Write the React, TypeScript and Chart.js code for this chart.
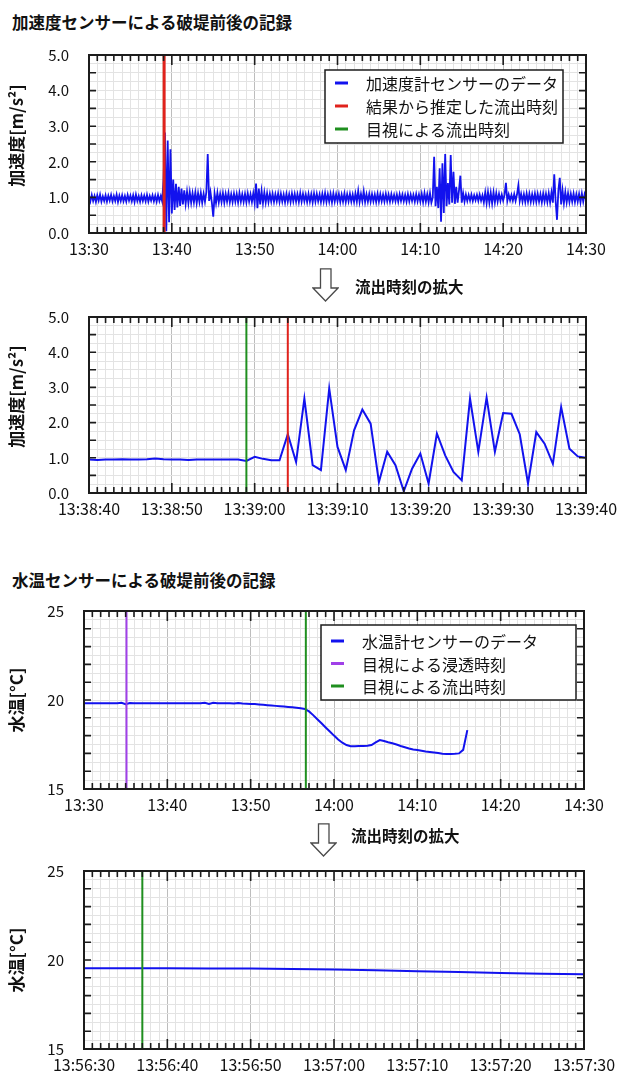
import React, { useEffect, useRef } from "react";
import { Chart, registerables } from "chart.js";

Chart.register(...registerables);

const FONT = '"Noto Sans CJK JP", "Noto Sans", sans-serif';
const BLUE = "#1212ee";
const RED = "#e0221c";
const GREEN = "#1f8f1f";
const PURPLE = "#a040e8";

// ---------------- Panel 1: accelerometer 13:30–14:30 (one value every 10 s) ----------------
const accTickLabels = ["13:30", "13:40", "13:50", "14:00", "14:10", "14:20", "14:30"];
const accStepMinutes = 1 / 6;
const accValues = [
  1.05, 0.89, 1.07, 0.9, 1.04, 0.87, 1.06, 0.91, 1.08, 0.88, 1.03, 0.9,
  1.06, 0.88, 1.05, 0.91, 1.07, 0.89, 1.04, 0.9, 1.08, 0.87, 1.05, 0.9,
  1.06, 0.89, 1.04, 0.88, 1.07, 0.91, 1.05, 0.89, 1.06, 0.87, 1.08, 0.9,
  1.04, 0.88, 1.06, 0.9, 1.05, 0.89, 1.07, 0.88, 1.04, 0.91, 1.06, 0.89,
  1.05, 0.88, 1.07, 0.9, 1.04, 0.89, 1.5, 2.82, 0.05, 2.6, 0.3, 2.35,
  0.55, 1.5, 0.65, 1.38, 0.72, 1.3, 0.76, 1.25, 0.8, 1.2, 0.82, 1.16,
  0.84, 1.15, 0.85, 1.12, 0.86, 1.14, 0.84, 1.12, 0.87, 1.13, 0.85, 1.1,
  0.88, 1.15, 2.22, 0.9, 1.15, 0.85, 0.46, 1.1, 0.84, 1.13, 0.86, 1.1,
  0.87, 1.12, 0.85, 1.1, 0.88, 1.12, 0.86, 1.09, 0.87, 1.11, 0.88, 1.1,
  0.86, 1.12, 0.88, 1.09, 0.87, 1.1, 0.86, 1.11, 0.88, 1.09, 0.87, 1.12,
  0.84, 1.39, 0.7, 1.25, 0.8, 1.18, 0.84, 1.14, 0.86, 1.12, 0.87, 1.1,
  0.88, 1.1, 0.87, 1.09, 0.89, 1.11, 0.87, 1.1, 0.88, 1.08, 0.86, 1.1,
  0.88, 1.09, 0.87, 1.11, 0.89, 1.1, 0.88, 1.09, 0.87, 1.12, 0.88, 1.1,
  0.89, 1.08, 0.87, 1.1, 0.88, 1.09, 0.86, 1.11, 0.88, 1.1, 0.89, 1.08,
  0.87, 1.1, 0.88, 1.12, 0.87, 1.09, 0.88, 1.1, 0.86, 1.11, 0.88, 1.09,
  0.89, 1.1, 0.87, 1.08, 0.88, 1.11, 0.87, 1.09, 0.89, 1.1, 0.88, 1.08,
  0.87, 1.11, 0.88, 1.18, 0.87, 1.1, 0.89, 1.17, 0.87, 1.09, 0.88, 1.1,
  0.88, 1.09, 0.89, 1.08, 0.87, 1.1, 0.88, 1.09, 0.89, 1.08, 0.88, 1.1,
  0.89, 1.08, 0.88, 1.09, 0.9, 1.07, 0.89, 1.08, 0.88, 1.09, 0.9, 1.08,
  0.89, 1.07, 0.88, 1.09, 0.89, 1.08, 0.9, 1.07, 0.88, 1.09, 0.89, 1.08,
  0.88, 1.1, 0.87, 1.12, 0.88, 1.09, 0.86, 1.12, 0.85, 1.0, 2.14, 0.75,
  1.3, 0.7, 1.82, 0.32, 1.96, 0.56, 2.22, 0.75, 1.4, 0.8, 2.19, 0.85,
  1.72, 0.82, 1.3, 0.85, 1.2, 1.61, 0.85, 1.12, 0.88, 1.08, 0.9, 1.07,
  0.91, 1.08, 0.9, 1.06, 0.92, 1.07, 0.9, 1.08, 0.91, 1.06, 0.86, 1.14,
  0.84, 1.15, 0.85, 1.13, 0.83, 1.14, 0.86, 1.12, 0.88, 1.1, 0.9, 1.08,
  0.91, 1.07, 1.41, 0.9, 1.08, 0.92, 1.07, 0.91, 1.09, 0.9, 1.08, 1.34,
  0.9, 1.1, 0.88, 1.09, 0.87, 1.11, 0.88, 1.1, 0.87, 1.09, 0.88, 1.11,
  0.87, 1.1, 0.88, 1.09, 0.86, 1.11, 0.88, 1.1, 0.87, 1.12, 0.86, 1.14,
  0.85, 1.65, 0.9, 0.37, 1.2, 1.55, 0.8, 1.2, 0.84, 1.15, 0.86, 1.12,
  0.87, 1.1, 0.88, 1.11, 0.87, 1.09, 0.88, 1.1, 0.86, 1.11, 0.88, 1.09,
  0.95,
];
const accSeriesLabel = "加速度計センサーのデータ";
const accEstimatedLabel = "結果から推定した流出時刻";
const accEstimatedMinute = 9.07; // 13:39:04
const visualOutflowLabel = "目視による流出時刻";
const accVisualMinute = 8.98; // 13:38:59

// ---------------- Panel 2: accelerometer 13:38:40–13:39:40 (one value per second) ----------------
const zoomAccTickLabels = ["13:38:40", "13:38:50", "13:39:00", "13:39:10", "13:39:20", "13:39:30", "13:39:40"];
const zoomAccStepSeconds = 1;
const zoomAccValues = [
  0.95, 0.94, 0.95, 0.95, 0.96, 0.95, 0.95, 0.96, 0.98, 0.96, 0.95, 0.95,
  0.94, 0.95, 0.95, 0.95, 0.95, 0.95, 0.95, 0.91, 1.03, 0.97, 0.93, 0.93,
  1.67, 0.88, 2.68, 0.79, 0.65, 2.97, 1.31, 0.65, 1.78, 2.37, 1.97, 0.31,
  1.17, 0.79, 0.05, 0.69, 1.12, 0.27, 1.69, 1.07, 0.6, 0.36, 2.68, 1.17,
  2.71, 1.17, 2.27, 2.25, 1.67, 0.27, 1.73, 1.4, 0.83, 2.44, 1.26, 1.04,
  1.0,
];
const zoomAccEstimatedSecond = 24; // 13:39:04
const zoomAccVisualSecond = 19; // 13:38:59

// ---------------- Panel 3: water temperature 13:30–14:30 (one value every 30 s) ----------------
const tempTickLabels = ["13:30", "13:40", "13:50", "14:00", "14:10", "14:20", "14:30"];
const tempStepMinutes = 0.5;
const tempValues = [
  19.82, 19.82, 19.82, 19.82, 19.82, 19.82, 19.82, 19.82, 19.82, 19.84,
  19.76, 19.83, 19.82, 19.82, 19.82, 19.82, 19.82, 19.82, 19.82, 19.82,
  19.82, 19.82, 19.82, 19.82, 19.82, 19.82, 19.82, 19.82, 19.82, 19.84,
  19.78, 19.84, 19.82, 19.82, 19.82, 19.82, 19.81, 19.83, 19.8, 19.79,
  19.78, 19.77, 19.75, 19.73, 19.71, 19.69, 19.67, 19.65, 19.63, 19.61,
  19.59, 19.56, 19.53, 19.5, 19.36, 19.15, 18.92, 18.69, 18.46, 18.23,
  18.0, 17.78, 17.6, 17.47, 17.4, 17.4, 17.41, 17.42, 17.43, 17.47,
  17.62, 17.75, 17.7, 17.63, 17.57, 17.5, 17.42, 17.35, 17.28, 17.22,
  17.19, 17.15, 17.11, 17.08, 17.05, 17.02, 16.98, 16.97, 16.97, 16.98,
  17.0, 17.2, 18.31,
];
const tempSeriesLabel = "水温計センサーのデータ";
const seepageLabel = "目視による浸透時刻";
const tempSeepageMinute = 5.1; // 13:35:06
const tempVisualMinute = 26.62; // 13:56:37

// ---------------- Panel 4: water temperature 13:56:30–13:57:30 (one value every 5 s) ----------------
const zoomTempTickLabels = ["13:56:30", "13:56:40", "13:56:50", "13:57:00", "13:57:10", "13:57:20", "13:57:30"];
const zoomTempStepSeconds = 5;
const zoomTempValues = [19.53, 19.53, 19.53, 19.52, 19.52, 19.5, 19.46, 19.42, 19.37, 19.32, 19.27, 19.23, 19.2];
const zoomTempVisualSecond = 7; // 13:56:37

type EventLine = { label: string; color: string; at: number; width: number };
type LegendSpec = { dx: number; dy: number; w: number; h: number; rows: number[] };
type PanelSpec = {
  values: number[];
  step: number;
  xMax: number;
  xLabels: string[];
  yMin: number;
  yMax: number;
  yGrid: number;
  yTick: number;
  yLabel: (v: number) => string;
  yTitle: string;
  seriesLabel: string;
  lineWidth: number;
  events: EventLine[];
  legend: LegendSpec | null;
  yAxisWidth: number;
  padRight: number;
  padTop: number;
  xAxisHeight: number;
};

const decorPlugin = {
  id: "panelDecor",
  afterDatasetsDraw(chart: any, _args: any, opts: any) {
    const { ctx, chartArea: a } = chart;
    const xs = chart.scales.x;
    const ys = chart.scales.y;
    ctx.save();
    ctx.strokeStyle = "#1c1c1c";
    ctx.lineWidth = 1.6;
    ctx.beginPath();
    for (let v = xs.min; v <= xs.max + 1e-9; v += 1) {
      const px = xs.getPixelForValue(v);
      const major = Math.abs(v / 10 - Math.round(v / 10)) < 1e-6;
      const len = major ? 10 : 6;
      ctx.moveTo(px, a.top);
      ctx.lineTo(px, a.top + len);
      ctx.moveTo(px, a.bottom);
      ctx.lineTo(px, a.bottom - len);
    }
    for (let v = ys.min; v <= ys.max + 1e-9; v += opts.yTick) {
      const py = ys.getPixelForValue(v);
      ctx.moveTo(a.left, py);
      ctx.lineTo(a.left + 7, py);
      ctx.moveTo(a.right, py);
      ctx.lineTo(a.right - 7, py);
    }
    ctx.stroke();
    ctx.lineWidth = 2;
    ctx.strokeRect(a.left, a.top, a.right - a.left, a.bottom - a.top);
    ctx.restore();
  },
  afterDraw(chart: any, _args: any, opts: any) {
    const L = opts.legend;
    if (!L) return;
    const { ctx, chartArea: a } = chart;
    const bx = a.left + L.dx;
    const by = a.top + L.dy;
    ctx.save();
    ctx.fillStyle = "#ffffff";
    ctx.fillRect(bx, by, L.w, L.h);
    ctx.strokeStyle = "#1c1c1c";
    ctx.lineWidth = 1.5;
    ctx.strokeRect(bx, by, L.w, L.h);
    ctx.font = `16px ${FONT}`;
    ctx.textBaseline = "middle";
    chart.data.datasets.forEach((ds: any, i: number) => {
      const ry = by + L.rows[i];
      ctx.strokeStyle = ds.borderColor;
      ctx.lineWidth = 3;
      ctx.beginPath();
      ctx.moveTo(bx + 10, ry);
      ctx.lineTo(bx + 23, ry);
      ctx.stroke();
      ctx.fillStyle = "#111";
      ctx.fillText(ds.label, bx + 41, ry + 1);
    });
    ctx.restore();
  },
};

function buildConfig(p: PanelSpec): any {
  const series = p.values.map((v, i) => ({ x: i * p.step, y: v }));
  const datasets: any[] = [
    {
      label: p.seriesLabel,
      data: series,
      borderColor: BLUE,
      borderWidth: p.lineWidth,
      pointRadius: 0,
      tension: 0,
      order: 10,
    },
    ...p.events.map((e, i) => ({
      label: e.label,
      data: [
        { x: e.at, y: p.yMin },
        { x: e.at, y: p.yMax },
      ],
      borderColor: e.color,
      borderWidth: e.width,
      pointRadius: 0,
      order: i,
    })),
  ];
  return {
    type: "line",
    data: { datasets },
    plugins: [decorPlugin],
    options: {
      animation: false,
      responsive: false,
      events: [],
      layout: { autoPadding: false, padding: { left: 0, top: p.padTop, right: p.padRight, bottom: 0 } },
      plugins: {
        legend: { display: false },
        tooltip: { enabled: false },
        panelDecor: { yTick: p.yTick, legend: p.legend },
      },
      scales: {
        x: {
          type: "linear",
          min: 0,
          max: p.xMax,
          afterFit: (s: any) => {
            s.height = p.xAxisHeight;
            s.paddingLeft = 0;
            s.paddingRight = 0;
            s.paddingTop = 0;
            s.paddingBottom = 0;
          },
          border: { display: false },
          grid: {
            drawTicks: false,
            lineWidth: 1,
            color: (c: any) =>
              c.tick && Math.abs(c.tick.value / 10 - Math.round(c.tick.value / 10)) < 1e-6 ? "#bdbdbd" : "#e3e3e3",
          },
          ticks: {
            stepSize: 1,
            autoSkip: false,
            maxRotation: 0,
            padding: 6,
            color: "#111",
            font: { family: FONT, size: 16 },
            callback: (v: number) => {
              const n = Math.round(v);
              if (Math.abs(v - n) > 1e-6 || n % 10 !== 0) return "";
              return p.xLabels[n / 10];
            },
          },
        },
        y: {
          type: "linear",
          min: p.yMin,
          max: p.yMax,
          afterFit: (s: any) => {
            s.width = p.yAxisWidth;
            s.paddingLeft = 0;
            s.paddingRight = 0;
            s.paddingTop = 0;
            s.paddingBottom = 0;
          },
          border: { display: false },
          grid: { drawTicks: false, lineWidth: 1, color: "#e3e3e3" },
          title: {
            display: true,
            text: p.yTitle,
            color: "#111",
            padding: { top: 6, bottom: 0 },
            font: { family: FONT, size: 17, weight: "bold" },
          },
          ticks: {
            stepSize: p.yGrid,
            autoSkip: false,
            padding: 20,
            color: "#111",
            font: { family: FONT, size: 15 },
            callback: (v: number) => p.yLabel(v),
          },
        },
      },
    },
  };
}

const accLabel = (v: number) => (Math.abs(v - Math.round(v)) < 1e-6 ? v.toFixed(1) : "");
const tempLabel = (v: number) => (Math.abs(v / 5 - Math.round(v / 5)) < 1e-6 ? String(Math.round(v)) : "");

const panel1 = (): PanelSpec => ({
  values: accValues,
  step: accStepMinutes,
  xMax: 60,
  xLabels: accTickLabels,
  yMin: 0,
  yMax: 5,
  yGrid: 0.25,
  yTick: 0.5,
  yLabel: accLabel,
  yTitle: "\u3000加速度[m/s²]",
  seriesLabel: accSeriesLabel,
  lineWidth: 1.8,
  events: [
    { label: accEstimatedLabel, color: RED, at: accEstimatedMinute, width: 3 },
    { label: visualOutflowLabel, color: GREEN, at: accVisualMinute, width: 1 },
  ],
  legend: { dx: 236, dy: 15, w: 238, h: 73, rows: [13, 36, 59] },
  yAxisWidth: 89,
  padRight: 35,
  padTop: 15,
  xAxisHeight: 37,
});

const panel2 = (): PanelSpec => ({
  values: zoomAccValues,
  step: zoomAccStepSeconds,
  xMax: 60,
  xLabels: zoomAccTickLabels,
  yMin: 0,
  yMax: 5,
  yGrid: 0.25,
  yTick: 0.5,
  yLabel: accLabel,
  yTitle: "\u3000加速度[m/s²]",
  seriesLabel: accSeriesLabel,
  lineWidth: 2,
  events: [
    { label: accEstimatedLabel, color: RED, at: zoomAccEstimatedSecond, width: 2 },
    { label: visualOutflowLabel, color: GREEN, at: zoomAccVisualSecond, width: 2 },
  ],
  legend: null,
  yAxisWidth: 89,
  padRight: 35,
  padTop: 17,
  xAxisHeight: 37,
});

const panel3 = (): PanelSpec => ({
  values: tempValues,
  step: tempStepMinutes,
  xMax: 60,
  xLabels: tempTickLabels,
  yMin: 15,
  yMax: 25,
  yGrid: 0.5,
  yTick: 1,
  yLabel: tempLabel,
  yTitle: "水温[°C]",
  seriesLabel: tempSeriesLabel,
  lineWidth: 2,
  events: [
    { label: seepageLabel, color: PURPLE, at: tempSeepageMinute, width: 2 },
    { label: visualOutflowLabel, color: GREEN, at: tempVisualMinute, width: 2 },
  ],
  legend: { dx: 237, dy: 14, w: 255, h: 75, rows: [16, 38.5, 61] },
  yAxisWidth: 84,
  padRight: 37,
  padTop: 15,
  xAxisHeight: 37,
});

const panel4 = (): PanelSpec => ({
  values: zoomTempValues,
  step: zoomTempStepSeconds,
  xMax: 60,
  xLabels: zoomTempTickLabels,
  yMin: 15,
  yMax: 25,
  yGrid: 0.5,
  yTick: 1,
  yLabel: tempLabel,
  yTitle: "水温[°C]",
  seriesLabel: tempSeriesLabel,
  lineWidth: 2,
  events: [{ label: visualOutflowLabel, color: GREEN, at: zoomTempVisualSecond, width: 2 }],
  legend: null,
  yAxisWidth: 84,
  padRight: 37,
  padTop: 15,
  xAxisHeight: 26,
});

function Panel({ top, height, make }: { top: number; height: number; make: () => PanelSpec }) {
  const ref = useRef<HTMLCanvasElement>(null);
  useEffect(() => {
    const chart = new Chart(ref.current as HTMLCanvasElement, buildConfig(make()));
    return () => chart.destroy();
  }, [make]);
  return (
    <canvas
      ref={ref}
      width={621}
      height={height}
      style={{ position: "absolute", left: 0, top, width: 621, height, display: "block" }}
    />
  );
}

function Label({ text, left, cy, size, bold }: { text: string; left: number; cy: number; size: number; bold?: boolean }) {
  return (
    <div
      style={{
        position: "absolute",
        left,
        top: cy - size / 2,
        fontFamily: FONT,
        fontSize: size,
        lineHeight: `${size}px`,
        fontWeight: bold ? 700 : 400,
        color: "#111",
        whiteSpace: "nowrap",
      }}
    >
      {text}
    </div>
  );
}

function DownArrow({ left, top }: { left: number; top: number }) {
  return (
    <svg style={{ position: "absolute", left, top }} width={27} height={34} viewBox="0 0 27 34">
      <polygon
        points="8.5,0.8 19,0.8 19,20 26,20 13.5,33 1,20 8.5,20"
        fill="#ffffff"
        stroke="#4a4a4a"
        strokeWidth={1.3}
      />
    </svg>
  );
}

export default function App() {
  return (
    <div
      style={{
        position: "absolute",
        left: 0,
        top: 0,
        width: 621,
        height: 1075,
        overflow: "hidden",
        background: "#ffffff",
      }}
    >
      <Label text="加速度センサーによる破堤前後の記録" left={12} cy={22} size={16.5} bold />
      <Panel top={40} height={230} make={panel1} />
      <DownArrow left={312} top={268} />
      <Label text="流出時刻の拡大" left={355} cy={287} size={15.5} bold />
      <Panel top={300} height={230} make={panel2} />
      <Label text="水温センサーによる破堤前後の記録" left={12} cy={580} size={16.5} bold />
      <Panel top={596} height={230} make={panel3} />
      <DownArrow left={310} top={823} />
      <Label text="流出時刻の拡大" left={351} cy={836} size={15.5} bold />
      <Panel top={856} height={219} make={panel4} />
    </div>
  );
}
